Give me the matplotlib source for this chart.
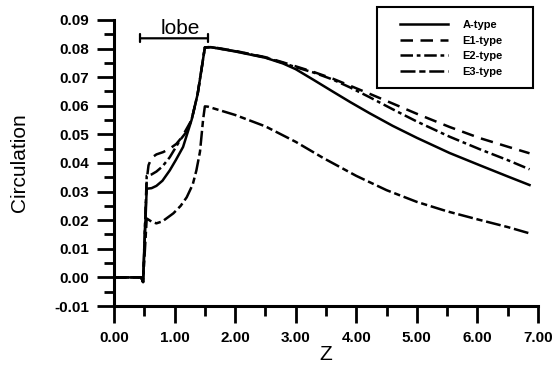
import matplotlib
matplotlib.use("Agg")
import matplotlib.pyplot as plt
from matplotlib.patches import Rectangle
from matplotlib.ticker import MultipleLocator, FormatStrFormatter

plt.rcParams['font.family'] = ['Liberation Sans', 'DejaVu Sans']

# data
z_a = [0.0, 0.45, 0.48, 0.54, 0.62, 0.70, 0.80, 0.92, 1.02, 1.14, 1.28, 1.38, 1.45, 1.50, 1.60,
       2.0, 2.5, 2.79, 3.0, 3.3, 3.61, 3.9, 4.22, 4.6, 5.0, 5.54, 6.04, 6.5, 6.86]
c_a = [0.0, 0.0, -0.0016, 0.031, 0.0312, 0.032, 0.0338, 0.0374, 0.041, 0.0456, 0.055, 0.064, 0.0735,
       0.0804, 0.0805, 0.079, 0.0768, 0.0748, 0.0728, 0.0690, 0.0650, 0.0613, 0.0574, 0.0530,
       0.0488, 0.0435, 0.0392, 0.0353, 0.0323]

z_e1 = [0.0, 0.45, 0.48, 0.54, 0.57, 0.62, 0.70, 0.81, 0.92, 1.03, 1.12, 1.28, 1.38, 1.45, 1.50,
        1.60, 2.0, 2.5, 2.79, 3.0, 3.3, 3.61, 3.9, 4.22, 4.6, 5.0, 5.54, 6.04, 6.5, 6.86]
c_e1 = [0.0, 0.0, -0.0016, 0.034, 0.0392, 0.0418, 0.043, 0.0438, 0.045, 0.0467, 0.049, 0.055,
        0.064, 0.0735, 0.0804, 0.0806, 0.0792, 0.077, 0.0752, 0.0738, 0.0718, 0.0695, 0.0670,
        0.0642, 0.0608, 0.0572, 0.0526, 0.0487, 0.0457, 0.0434]

z_e2 = [0.0, 0.45, 0.48, 0.54, 0.62, 0.70, 0.80, 0.92, 1.00, 1.09, 1.20, 1.28, 1.38, 1.45, 1.50,
        1.60, 2.0, 2.5, 2.79, 3.0, 3.3, 3.61, 3.9, 4.22, 4.6, 5.0, 5.54, 6.04, 6.5, 6.86]
c_e2 = [0.0, 0.0, -0.0016, 0.0355, 0.036, 0.037, 0.0388, 0.042, 0.0448, 0.048, 0.051, 0.055,
        0.064, 0.0735, 0.0804, 0.0805, 0.0791, 0.0769, 0.0750, 0.0735, 0.0716, 0.0692, 0.0664,
        0.0630, 0.0588, 0.0545, 0.0492, 0.0448, 0.0410, 0.0378]

z_e3 = [0.0, 0.45, 0.48, 0.54, 0.62, 0.70, 0.80, 0.98, 1.10, 1.20, 1.30, 1.36, 1.42, 1.47, 1.50,
        1.55, 2.0, 2.5, 3.0, 3.45, 4.0, 4.5, 5.0, 5.5, 6.0, 6.5, 6.86]
c_e3 = [0.0, 0.0, -0.0016, 0.0206, 0.0195, 0.0189, 0.0196, 0.0224, 0.025, 0.028, 0.0325,
        0.0374, 0.044, 0.055, 0.0598, 0.0597, 0.0568, 0.0528, 0.0474, 0.0418, 0.0355, 0.0305,
        0.0264, 0.0231, 0.0203, 0.0176, 0.0154]

x_ticks = [0, 1, 2, 3, 4, 5, 6, 7]
lobe_span = [0.43, 1.55]
lobe_level = 0.0836

W, H = 554, 375
fig = plt.figure(figsize=(W / 100, H / 100), dpi=100)
ax = fig.add_axes([114 / W, 1 - 306 / H, 424 / W, 286 / H])

lw = 1.8
ax.plot(z_a, c_a, color='black', lw=lw, ls='-', label='A-type')
ax.plot(z_e1, c_e1, color='black', lw=lw, ls=(0, (5, 3)), label='E1-type')
ax.plot(z_e2, c_e2, color='black', lw=lw, ls=(0, (5, 1.5, 1.5, 1.5)), label='E2-type')
ax.plot(z_e3, c_e3, color='black', lw=lw, ls=(0, (6, 1.5, 2.5, 1.5)), label='E3-type')

# lobe bracket
ax.annotate('', xy=(lobe_span[0], lobe_level), xytext=(lobe_span[1], lobe_level),
            arrowprops=dict(arrowstyle='|-|, widthA=0.3, widthB=0.3', color='black', lw=1.6,
                            shrinkA=0, shrinkB=0))
ax.text(1.09, lobe_level + 0.0002, 'lobe', ha='center', va='bottom', fontsize=15)

ax.set_xlim(0, 7)
ax.set_ylim(-0.01, 0.09)
ax.set_xticks(x_ticks)
ax.xaxis.set_minor_locator(MultipleLocator(0.5))
ax.yaxis.set_major_locator(MultipleLocator(0.01))
ax.yaxis.set_minor_locator(MultipleLocator(0.005))
ax.xaxis.set_major_formatter(FormatStrFormatter('%.2f'))
ax.yaxis.set_major_formatter(FormatStrFormatter('%.2f'))

for s in ['top', 'right']:
    ax.spines[s].set_visible(False)
for s in ['left', 'bottom']:
    ax.spines[s].set_linewidth(2.2)

ax.tick_params(which='major', direction='out', length=12, width=2, labelsize=11, pad=6)
ax.tick_params(which='minor', direction='out', length=7, width=2)
for lab in ax.get_xticklabels() + ax.get_yticklabels():
    lab.set_fontweight('bold')

ax.set_xlabel('Z', fontsize=15, labelpad=0)
ax.set_ylabel('Circulation', fontsize=15, labelpad=18)

# legend: entries without frame, box drawn separately (wider padding at the sides)
leg = ax.legend(loc='upper left', bbox_to_anchor=(400 / W, 1 - 20 / H),
                bbox_transform=fig.transFigure, prop=dict(size=8, weight='bold'),
                frameon=False, handlelength=4.3, labelspacing=0.5,
                borderpad=0, handletextpad=1.3, borderaxespad=0)
leg.set_zorder(6)
box = Rectangle((377 / W, 1 - 88 / H), 156 / W, 81 / H, transform=fig.transFigure,
                facecolor='white', edgecolor='black', lw=1.5, zorder=5, clip_on=False)
ax.add_artist(box)

fig.savefig('out.png', dpi=100)
